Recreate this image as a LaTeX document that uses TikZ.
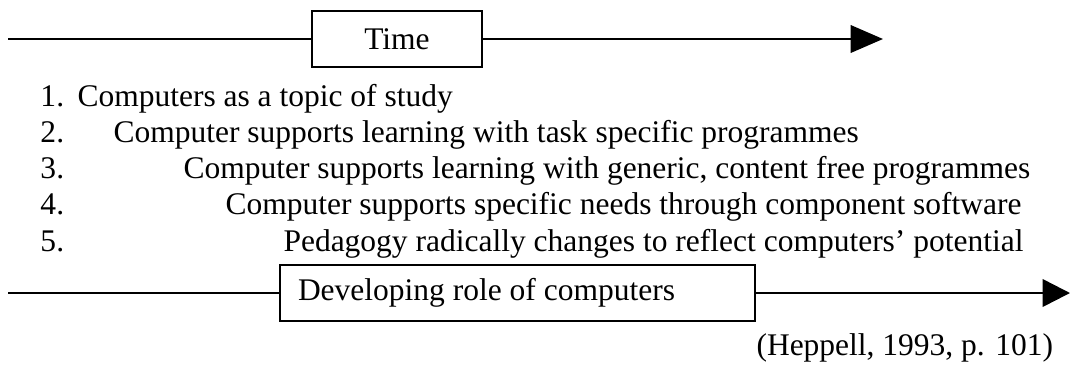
\documentclass[tikz,border=0pt]{standalone}
\usepackage{fontspec}
\setmainfont{Liberation Serif}
\usetikzlibrary{arrows.meta}

\tikzset{
	box/.style = {draw, line width = 1pt, rectangle, minimum height = 22.4pt, inner sep = 0pt},
	axis/.style = {line width = 1pt},
	item/.style = {anchor = base west, inner sep = 0pt}
}

\begin{document}
\begin{tikzpicture}[x = 0.4pt, y = -0.4pt, font = \fontsize{12.6}{15}\selectfont]

	\useasboundingbox (0, 0) rectangle (1070, 367);

	% Time axis
	
	\node [box, minimum width = 68pt] (time) at (397, 39) {Time};
	\coordinate (timestart) at (8, 39);
	\coordinate (timeend) at (883, 39);
	
	\draw [axis] (timestart) -- (time);
	\draw [axis, -{Triangle[length=13pt, width=11pt]}] (time) -- (timeend);

	% Stages
	
	\node [item] (num1) at (40, 106) {1.};
	\node [item] (stage1) at (77, 106) {Computers as a topic of study};
	
	\node [item] (num2) at (40, 142) {2.};
	\node [item] (stage2) at (113, 142) {Computer supports learning with task specific programmes};
	
	\node [item] (num3) at (40, 178) {3.};
	\node [item] (stage3) at (183, 178) {Computer supports learning with generic, content free programmes};
	
	\node [item] (num4) at (40, 214) {4.};
	\node [item] (stage4) at (225, 214) {Computer supports specific needs through component software};
	
	\node [item] (num5) at (40, 251) {5.};
	\node [item] (stage5) at (283, 251) {Pedagogy radically changes to reflect computers' potential};

	% Role axis
	
	\node [box, minimum width = 190pt] (role) at (517.5, 293) {\makebox[175.6pt][l]{Developing role of computers}};
	\coordinate (rolestart) at (8, 293);
	\coordinate (roleend) at (1070, 293);
	
	\draw [axis] (rolestart) -- (role);
	\draw [axis, -{Triangle[length=11pt, width=11pt]}] (role) -- (roleend);

	% Source
	
	\node [item] (source) at (756, 355) {(Heppell, 1993, p. 101)};

\end{tikzpicture}
\end{document}
